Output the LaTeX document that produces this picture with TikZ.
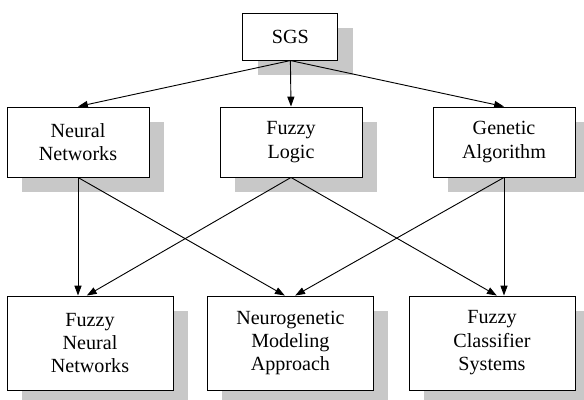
\documentclass[tikz,border=0pt]{standalone}
\usepackage{fontspec}
\setmainfont{Liberation Serif}
\usetikzlibrary{arrows.meta,shadows}
\definecolor{shadowgray}{RGB}{200,200,200}

\begin{document}
\begin{tikzpicture}[line width=.65pt]

        \useasboundingbox (0,0) rectangle (14.6,9.975);

        \begin{scope}[every node/.style={draw, fill=white, align=center, inner sep=2pt,
            font=\fontsize{14.3}{16.7}\selectfont,
            drop shadow={shadow xshift=.37cm, shadow yshift=-.37cm, fill=shadowgray, opacity=1}}]
          \node[minimum width=2.375cm, minimum height=1.175cm] (sgs) at (7.26,9.06) {SGS};
          \node[minimum width=3.55cm, minimum height=1.75cm] (nn) at (1.95,6.425) {Neural\\Networks};
          \node[minimum width=3.55cm, minimum height=1.75cm] (fl) at (7.275,6.425) {Fuzzy\\Logic};
          \node[minimum width=3.55cm, minimum height=1.75cm] (ga) at (12.6,6.425) {Genetic\\Algorithm};
          \node[minimum width=4.15cm, minimum height=2.35cm] (fnn) at (2.25,1.4) {Fuzzy\\Neural\\Networks};
          \node[minimum width=4.15cm, minimum height=2.35cm] (ngm) at (7.26,1.4) {Neurogenetic\\Modeling\\Approach};
          \node[minimum width=4.15cm, minimum height=2.35cm] (fcs) at (12.3,1.4) {Fuzzy\\Classifier\\Systems};
        \end{scope}

        \begin{scope}[every edge/.style={draw, -{Triangle[length=7pt,width=5pt]}}]
          \path (sgs.south) edge (nn.north);
          \path (sgs.south) edge (fl.north);
          \path (sgs.south) edge (ga.north);
          \path (nn.south)  edge (nn.south |- fnn.north);
          \path (nn.south)  edge ([xshift=-.14cm]ngm.north);
          \path (fl.south)  edge ([xshift=-.08cm]fnn.north);
          \path (fl.south)  edge ([xshift=.12cm]fcs.north);
          \path (ga.south)  edge ([xshift=.12cm]ngm.north);
          \path (ga.south)  edge (ga.south |- fcs.north);
        \end{scope}

      \end{tikzpicture}
\end{document}
